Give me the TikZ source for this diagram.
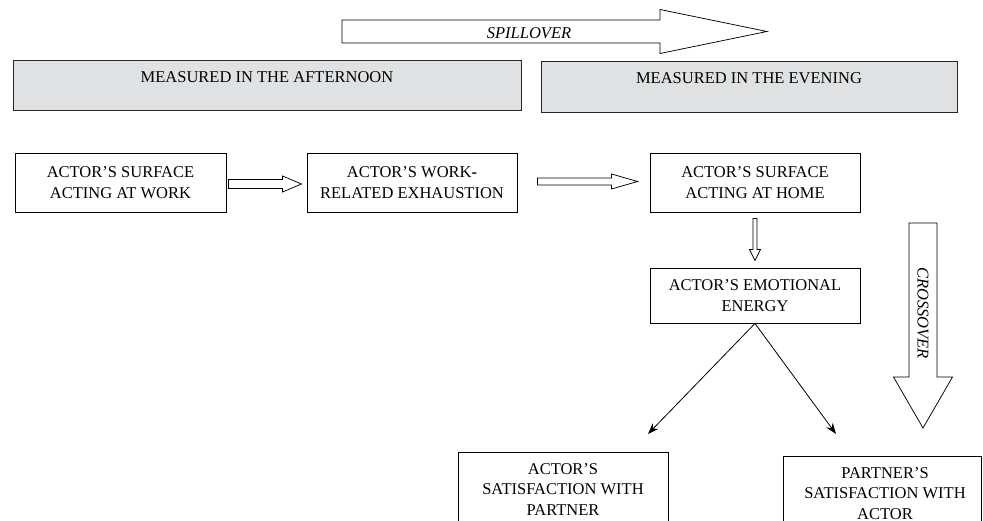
\documentclass[tikz,border=0pt]{standalone}
\usepackage{fontspec}
\setmainfont{Liberation Serif}
\usetikzlibrary{calc,arrows.meta}
\definecolor{gfill}{HTML}{E0E1E3}
% horizontal block arrow: start, end, half shaft, half head, head length
\newcommand\harr[5]{%
  \draw[blk] let \p1=(#1), \p2=(#2) in
    (\x1,\y1+#3pt) -- (\x2-#5pt,\y1+#3pt) -- (\x2-#5pt,\y1+#4pt) -- (\x2,\y1)
    -- (\x2-#5pt,\y1-#4pt) -- (\x2-#5pt,\y1-#3pt) -- (\x1,\y1-#3pt) -- cycle;}
% vertical (downward) block arrow
\newcommand\varr[5]{%
  \draw[blk] let \p1=(#1), \p2=(#2) in
    (\x1-#3pt,\y1) -- (\x1-#3pt,\y2+#5pt) -- (\x1-#4pt,\y2+#5pt) -- (\x1,\y2)
    -- (\x1+#4pt,\y2+#5pt) -- (\x1+#3pt,\y2+#5pt) -- (\x1+#3pt,\y1) -- cycle;}
\begin{document}
\fontsize{16.5}{20.5}\selectfont
\begin{tikzpicture}[x=1pt,y=-1pt,
  box/.style={draw=black, line width=0.9pt, fill=white, minimum width=210pt,
    minimum height=59pt, align=center, inner sep=0pt},
  graybox/.style={draw=black!85, line width=1pt, fill=gfill},
  blk/.style={draw=black, line width=0.75pt, fill=white, line join=miter},
  dia/.style={-{Stealth[length=11pt,width=8pt]}, line width=0.8pt}]
\useasboundingbox (0,0) rectangle (983,521);
\clip (0,0) rectangle (983,521);

% spillover arrow
\coordinate (spA) at (342,31.5);
\coordinate (spB) at (767,31.5);
\harr{spA}{spB}{11.5}{22}{107}
\node[font=\itshape, inner sep=0pt] (spl) at (529,33) {SPILLOVER};

% time-of-day boxes
\node[graybox, minimum width=508pt, minimum height=50pt] (aft) at (267,86) {};
\node[anchor=base] (aftt) at (267,83) {MEASURED IN THE AFTERNOON};
\node[graybox, minimum width=416pt, minimum height=51pt] (eve) at (749,87.5) {};
\node[anchor=base] (evet) at (749,84) {MEASURED IN THE EVENING};

% main boxes
\node[box, minimum width=211pt] (b1) at (120.5,182.5) {ACTOR’S SURFACE\\ACTING AT WORK};
\node[box] (b2) at (412,182.5) {ACTOR’S WORK\textbf{-}\\RELATED EXHAUSTION};
\node[box] (b3) at (755,182.5) {ACTOR’S SURFACE\\ACTING AT HOME};
\node[box, minimum height=55pt] (emo) at (755,295.5) {ACTOR’S EMOTIONAL\\ENERGY};

% block connectors
\coordinate (a1s) at ($(b1.east)+(2,1.5)$);
\coordinate (a1e) at ($(b2.west)+(-5,1.5)$);
\harr{a1s}{a1e}{4.5}{8}{19}
\coordinate (a2s) at ($(b2.east)+(20,-1)$);
\coordinate (a2e) at ($(b3.west)+(-12,-1)$);
\harr{a2s}{a2e}{3.5}{7.5}{26}
\coordinate (ds) at ($(b3.south)+(0,6)$);
\coordinate (de) at ($(emo.north)+(0,-7)$);
\varr{ds}{de}{2}{5.5}{11}

% crossover arrow
\coordinate (crA) at (923,223);
\coordinate (crB) at (923,428);
\varr{crA}{crB}{14}{29.5}{51}
\node[font=\itshape, rotate=-90, inner sep=0pt] (crt) at (923,313) {CROSSOVER};

% bottom boxes (cut by the frame)
\node[box, anchor=north west, minimum width=210pt, minimum height=100pt] (asat) at (458,452) {};
\node[align=center, anchor=north, inner sep=0pt] (asatt) at (563,463)
  {ACTOR’S\\SATISFACTION WITH\\PARTNER};
\node[box, anchor=north west, minimum width=198pt, minimum height=100pt] (psat) at (783,456) {};
\node[align=center, anchor=north, inner sep=0pt] (psatt) at (885,467)
  {PARTNER’S\\SATISFACTION WITH\\ACTOR};

% diagonal arrows
\coordinate (t1) at (648,434);
\coordinate (t2) at (836,434);
\draw[dia] (emo.south) -- (t1);
\draw[dia] (emo.south) -- (t2);
\end{tikzpicture}
\end{document}
